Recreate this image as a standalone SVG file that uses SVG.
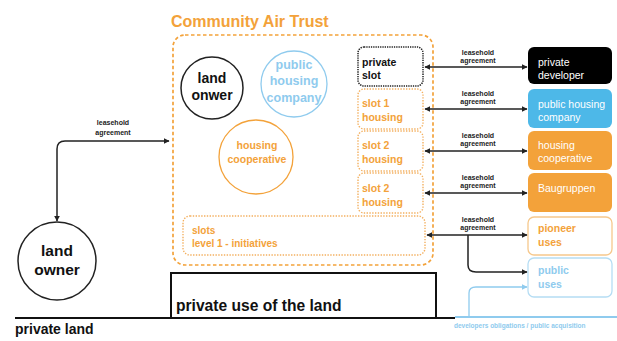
<svg xmlns="http://www.w3.org/2000/svg" width="617" height="341" viewBox="0 0 617 341">
<defs>
<style>
text{font-family:"Liberation Sans",Arial,sans-serif;font-weight:bold}
.or{fill:#F3A23A}
.lb{fill:#8FCBEE}
.wh{fill:#ffffff;font-weight:normal}
.lab{font-size:7px;fill:#222;text-anchor:middle}
.slot{fill:#fff;stroke:#F3B060;stroke-width:1.4;stroke-dasharray:1.4 1.4}
.st{font-size:10.5px}
.bt{font-size:10.5px}
.con{fill:none;stroke:#222;stroke-width:1.5}
</style>
<marker id="ah" viewBox="0 0 10 10" refX="9" refY="5" markerWidth="6" markerHeight="6" orient="auto-start-reverse" markerUnits="userSpaceOnUse"><path d="M0,0 L10,5 L0,10 z" fill="#222"/></marker>
<marker id="ahb" viewBox="0 0 10 10" refX="9" refY="5" markerWidth="6" markerHeight="6" orient="auto-start-reverse" markerUnits="userSpaceOnUse"><path d="M0,0 L10,5 L0,10 z" fill="#8FCBEE"/></marker>
</defs>
<rect width="617" height="341" fill="#fff"/>

<g id="trust">
<text x="171" y="27" class="or" font-size="16">Community Air Trust</text>
<rect x="173" y="35" width="260" height="230" rx="12" fill="none" stroke="#F3A23A" stroke-width="1.7" stroke-dasharray="3.5 2.5"/>
</g>

<g id="land-onwer">
<circle cx="212" cy="88" r="31" fill="#fff" stroke="#222" stroke-width="1.5"/>
<text x="212" y="83" font-size="14" text-anchor="middle" fill="#111">land</text>
<text x="212" y="100" font-size="14" text-anchor="middle" fill="#111">onwer</text>
</g>
<g id="public-housing-company-circle">
<circle cx="294" cy="84" r="33" fill="#fff" stroke="#8FCBEE" stroke-width="1.3"/>
<text x="294" y="69" font-size="12.5" text-anchor="middle" class="lb">public</text>
<text x="294" y="85" font-size="12.5" text-anchor="middle" class="lb">housing</text>
<text x="294" y="102" font-size="12.5" text-anchor="middle" class="lb">company</text>
</g>
<g id="housing-cooperative-circle">
<circle cx="256" cy="157" r="37" fill="#fff" stroke="#F3A23A" stroke-width="1.3"/>
<text x="257" y="149" font-size="10.5" text-anchor="middle" class="or" font-weight="normal">housing</text>
<text x="257" y="163" font-size="10.5" text-anchor="middle" class="or" font-weight="normal">cooperative</text>
</g>

<g id="private-slot">
<rect x="358" y="47" width="65" height="39" rx="6" fill="#fff" stroke="#222" stroke-width="1.5" stroke-dasharray="1.3 1"/>
<text x="362" y="66" class="st" fill="#111">private</text>
<text x="362" y="79" class="st" fill="#111">slot</text>
</g>
<g id="slot1">
<rect x="358" y="89" width="65" height="40" rx="6" class="slot"/>
<text x="362" y="107" class="st or">slot 1</text>
<text x="362" y="121" class="st or">housing</text>
</g>
<g id="slot2a">
<rect x="358" y="131" width="65" height="40" rx="6" class="slot"/>
<text x="362" y="149" class="st or">slot 2</text>
<text x="362" y="163" class="st or">housing</text>
</g>
<g id="slot2b">
<rect x="358" y="173" width="65" height="40" rx="6" class="slot"/>
<text x="362" y="192" class="st or">slot 2</text>
<text x="362" y="206" class="st or">housing</text>
</g>
<g id="slots-level1">
<rect x="183" y="216" width="242" height="39" rx="7" class="slot"/>
<text x="192" y="234" font-size="10" class="or">slots</text>
<text x="192" y="247" font-size="10" class="or">level 1 - initiatives</text>
</g>

<g id="private-developer">
<rect x="528" y="47" width="84" height="37" rx="6" fill="#000"/>
<text x="538" y="66" class="bt wh">private</text>
<text x="538" y="79" class="bt wh">developer</text>
</g>
<g id="public-housing-company">
<rect x="528" y="89" width="84" height="39" rx="6" fill="#4DB8E8"/>
<text x="538" y="108" class="bt wh">public housing</text>
<text x="538" y="121" class="bt wh">company</text>
</g>
<g id="housing-cooperative">
<rect x="528" y="131" width="84" height="39" rx="6" fill="#F3A23A"/>
<text x="538" y="149" class="bt wh">housing</text>
<text x="538" y="162" class="bt wh">cooperative</text>
</g>
<g id="baugruppen">
<rect x="528" y="173" width="84" height="39" rx="6" fill="#F3A23A"/>
<text x="538" y="192" class="bt wh">Baugruppen</text>
</g>
<g id="pioneer-uses">
<rect x="528" y="217" width="84" height="38" rx="6" fill="#fff" stroke="#F6C88C" stroke-width="1.3"/>
<text x="538" y="232" class="bt or">pioneer</text>
<text x="538" y="246" class="bt or">uses</text>
</g>
<g id="public-uses">
<rect x="528" y="258" width="84" height="39" rx="6" fill="#fff" stroke="#B5DDF4" stroke-width="1.3"/>
<text x="538" y="274" class="bt lb">public</text>
<text x="538" y="288" class="bt lb">uses</text>
</g>

<g id="land-owner">
<circle cx="57" cy="261" r="39" fill="#fff" stroke="#222" stroke-width="1.5"/>
<text x="57" y="256" font-size="15.5" text-anchor="middle" fill="#111">land</text>
<text x="57" y="275" font-size="15.5" text-anchor="middle" fill="#111">owner</text>
</g>

<g id="private-use">
<rect x="171" y="273" width="265" height="45" fill="#fff" stroke="#111" stroke-width="2"/>
<text x="176" y="311" font-size="15.6" fill="#111">private use of the land</text>
</g>

<g id="ground">
<line x1="15" y1="318" x2="455" y2="318" stroke="#111" stroke-width="2"/>
<line x1="455" y1="317" x2="617" y2="317" stroke="#8FCBEE" stroke-width="2"/>
<text x="15" y="334" font-size="14" fill="#111">private land</text>
<text x="454" y="328" font-size="6.5" class="lb" font-weight="normal">developers obligations / public acquisition</text>
</g>

<g id="connectors">
<path class="con" d="M57,221 V149 Q57,141 65,141 H169" marker-start="url(#ah)" marker-end="url(#ah)"/>
<text x="113" y="125" class="lab" font-size="7.5">leasehold</text>
<text x="113" y="135" class="lab" font-size="7.5">agreement</text>

<path class="con" d="M425,67 H527" marker-start="url(#ah)" marker-end="url(#ah)"/>
<text x="478" y="55" class="lab">leasehold</text>
<text x="478" y="63" class="lab">agreement</text>
<path class="con" d="M425,109 H527" marker-start="url(#ah)" marker-end="url(#ah)"/>
<text x="478" y="96" class="lab">leasehold</text>
<text x="478" y="104" class="lab">agreement</text>
<path class="con" d="M425,151 H527" marker-start="url(#ah)" marker-end="url(#ah)"/>
<text x="478" y="138" class="lab">leasehold</text>
<text x="478" y="146" class="lab">agreement</text>
<path class="con" d="M425,193 H527" marker-start="url(#ah)" marker-end="url(#ah)"/>
<text x="478" y="180" class="lab">leasehold</text>
<text x="478" y="188" class="lab">agreement</text>
<path class="con" d="M427,235 H527" marker-start="url(#ah)" marker-end="url(#ah)"/>
<text x="478" y="222" class="lab">leasehold</text>
<text x="478" y="230" class="lab">agreement</text>
<path class="con" d="M468,235 V265 Q468,272 476,272 H527" marker-end="url(#ah)"/>
<path d="M469,316 V293 Q469,287 476,287 H527" fill="none" stroke="#8FCBEE" stroke-width="1.3" marker-end="url(#ahb)"/>
</g>
</svg>
